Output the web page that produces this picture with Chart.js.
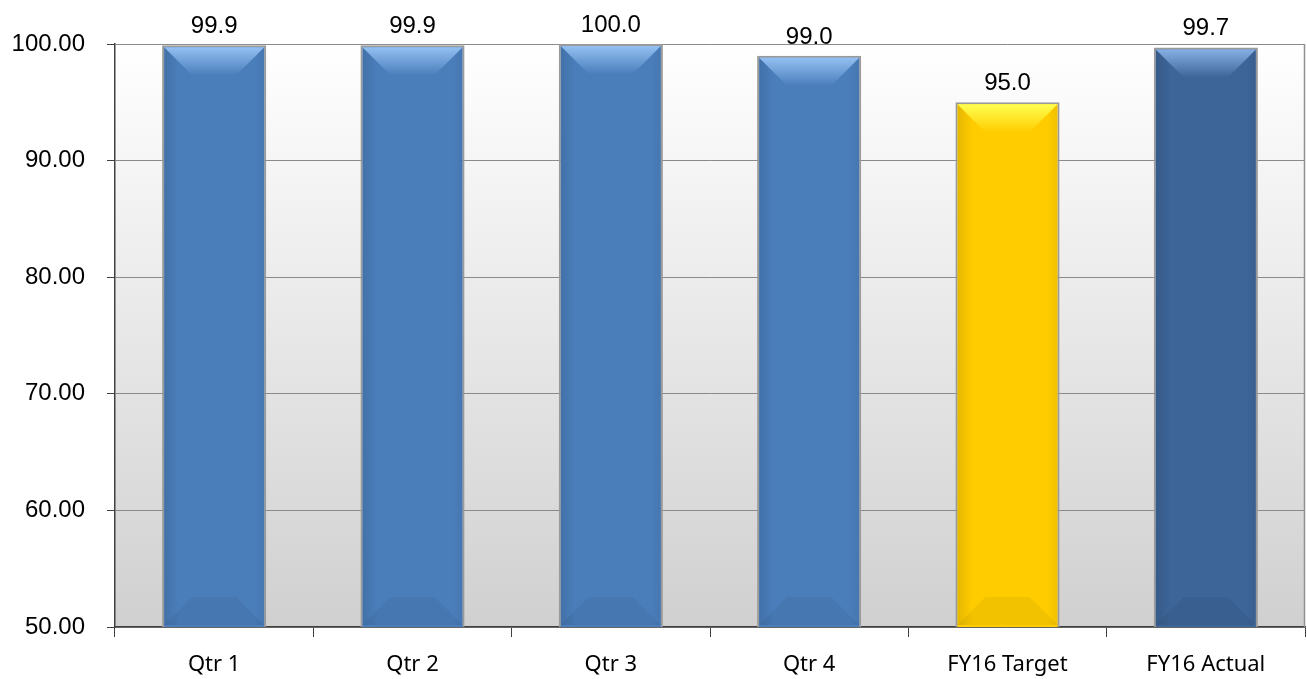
<!DOCTYPE html>
<html>
<head>
<meta charset="utf-8">
<script src="https://cdn.jsdelivr.net/npm/chart.js@4/dist/chart.umd.min.js"></script>
<style>
  html, body { margin:0; padding:0; background:#fff; }
  #wrap { width:1307px; height:679px; }
</style>
</head>
<body>
<div id="wrap"><canvas id="c"></canvas></div>
<script>
const categories = ['Qtr 1', 'Qtr 2', 'Qtr 3', 'Qtr 4', 'FY16 Target', 'FY16 Actual'];
const values = [99.9, 99.9, 100.0, 99.0, 95.0, 99.7];
const barColors = ['#4a7ebb', '#4a7ebb', '#4a7ebb', '#4a7ebb', '#ffcc00', '#3d6598'];
const topColors = ['#94c0f2', '#94c0f2', '#94c0f2', '#94c0f2', '#ffff50', '#86afe4'];

// plot area background: white to light gray
const bgPlugin = {
  id: 'bg',
  beforeDraw(chart) {
    const { ctx, chartArea: a } = chart;
    const g = ctx.createLinearGradient(0, a.top, 0, a.bottom);
    g.addColorStop(0, '#ffffff');
    g.addColorStop(1, '#d0d0d0');
    ctx.save();
    ctx.fillStyle = g;
    ctx.fillRect(a.left, a.top, a.right - a.left, a.bottom - a.top);
    ctx.restore();
  },
  afterDraw(chart) {
    const { ctx, chartArea: a } = chart;
    ctx.save();
    ctx.strokeStyle = '#909090';
    ctx.lineWidth = 1.5;
    ctx.beginPath();
    ctx.moveTo(a.right - 0.5, a.top);
    ctx.lineTo(a.right - 0.5, a.bottom);
    ctx.stroke();
    ctx.restore();
  }
};

// bevel look + value labels
const bevelPlugin = {
  id: 'bevel',
  afterDatasetsDraw(chart) {
    const { ctx, chartArea: a } = chart;
    const meta = chart.getDatasetMeta(0);
    meta.data.forEach((bar, i) => {
      const l = bar.x - bar.width / 2 + 2, r = bar.x + bar.width / 2 - 2;
      const t = bar.y + 2, b = Math.min(bar.base, a.bottom) - 2;
      const bw = r - l, d = 28;
      ctx.save();
      // side shading
      const sg = ctx.createLinearGradient(l, 0, r, 0);
      sg.addColorStop(0, 'rgba(0,0,0,0.10)');
      sg.addColorStop(0.15, 'rgba(0,0,0,0.0)');
      sg.addColorStop(0.9, 'rgba(0,0,0,0.0)');
      sg.addColorStop(1, 'rgba(0,0,0,0.06)');
      ctx.fillStyle = sg;
      ctx.fillRect(l, t, bw, b - t);
      // top bevel
      const tg = ctx.createLinearGradient(0, t, 0, t + d);
      tg.addColorStop(0, topColors[i]);
      tg.addColorStop(1, barColors[i]);
      ctx.fillStyle = tg;
      ctx.beginPath();
      ctx.moveTo(l, t);
      ctx.lineTo(r, t);
      ctx.lineTo(r - d, t + d);
      ctx.lineTo(l + d, t + d);
      ctx.closePath();
      ctx.fill();
      // bottom bevel
      ctx.fillStyle = 'rgba(0,0,0,0.05)';
      ctx.beginPath();
      ctx.moveTo(l, b);
      ctx.lineTo(r, b);
      ctx.lineTo(r - d, b - d);
      ctx.lineTo(l + d, b - d);
      ctx.closePath();
      ctx.fill();
      // label
      ctx.fillStyle = '#000';
      ctx.font = '24px "Liberation Sans", Arial, sans-serif';
      ctx.textAlign = 'center';
      ctx.textBaseline = 'alphabetic';
      ctx.fillText(values[i].toFixed(1), bar.x, bar.y - 12);
      ctx.restore();
    });
  }
};

new Chart(document.getElementById('c'), {
  type: 'bar',
  data: {
    labels: categories,
    datasets: [{
      data: values,
      backgroundColor: barColors,
      borderColor: '#9a9a9a',
      borderWidth: 2,
      categoryPercentage: 1,
      barPercentage: 0.525
    }]
  },
  options: {
    responsive: true,
    maintainAspectRatio: false,
    animation: false,
    layout: { padding: { top: 44, right: 2, left: 0, bottom: 0 } },
    plugins: { legend: { display: false }, tooltip: { enabled: false } },
    scales: {
      x: {
        offset: true,
        grid: { offset: true, drawOnChartArea: false, color: '#404040', tickLength: 10, lineWidth: 1 },
        border: { color: '#404040', width: 1.5 },
        ticks: { color: '#000', font: { family: '"Noto Sans", "Open Sans", sans-serif', size: 22 }, padding: 15 },
        afterFit(s) { s.height = 52; }
      },
      y: {
        min: 50,
        max: 100,
        ticks: {
          stepSize: 10,
          color: '#000',
          font: { family: '"Liberation Sans", Arial, sans-serif', size: 24 },
          padding: 22,
          callback: v => v.toFixed(2)
        },
        grid: { color: '#8a8a8a', lineWidth: 1, tickLength: 8, tickColor: '#404040' },
        border: { color: '#404040', width: 1.5 },
        afterFit(s) { s.width = 115; }
      }
    }
  },
  plugins: [bgPlugin, bevelPlugin]
});
</script>
</body>
</html>
